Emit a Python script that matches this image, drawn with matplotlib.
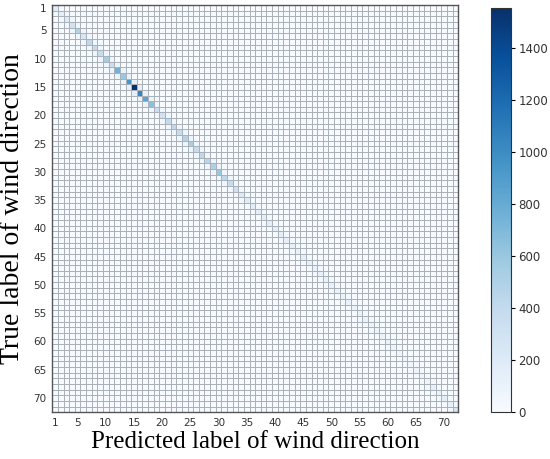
import matplotlib.pyplot as plt
import numpy as np

n_classes = 72
tick_labels = [1] + list(range(5, 71, 5))

# diagonal counts (correct predictions)
diag_counts = [
    180, 150, 200, 300, 480, 250, 420, 400, 380, 550,
    350, 750, 600, 950, 1555, 1050, 850, 650, 350, 300,
    400, 420, 380, 480, 520, 380, 420, 450, 500, 600,
    420, 380, 320, 220, 180, 170, 150, 140, 160, 140,
    150, 130, 120, 110, 150, 120, 100, 110, 100, 110,
    100, 90, 100, 90, 110, 100, 90, 80, 90, 100,
    80, 70, 80, 70, 80, 70, 80, 120, 100, 150,
    130, 250,
]
# confusion with the neighbouring direction (both sides)
neighbour_counts = [
    40, 40, 50, 60, 60, 50, 60, 60, 70, 60,
    80, 90, 100, 130, 140, 110, 90, 70, 60, 60,
    60, 60, 60, 70, 70, 60, 60, 70, 70, 60,
    60, 50, 40, 40, 30, 30, 30, 30, 30, 30,
    30, 30, 30, 30, 30, 30, 30, 30, 30, 30,
    30, 30, 30, 30, 30, 30, 30, 30, 30, 30,
    30, 30, 30, 30, 30, 30, 30, 30, 30, 30,
    40,
]

cm = np.zeros((n_classes, n_classes))
cm[np.arange(n_classes), np.arange(n_classes)] = diag_counts
cm[np.arange(n_classes - 1), np.arange(1, n_classes)] = neighbour_counts
cm[np.arange(1, n_classes), np.arange(n_classes - 1)] = neighbour_counts

fig = plt.figure(figsize=(5.5, 4.59), dpi=100)
ax = fig.add_axes([0.095, 0.102, 0.738, 0.887])
cax = fig.add_axes([0.893, 0.102, 0.036, 0.881])

mesh = ax.pcolormesh(cm, cmap="Blues", vmin=0, vmax=cm.max(),
                     edgecolors="#aab1b8", linewidth=0.5)
ax.set_xlim(0, n_classes)
ax.set_ylim(n_classes, 0)

pos = [t - 0.5 for t in tick_labels]
ax.set_xticks(pos)
ax.set_xticklabels(tick_labels)
ax.set_yticks(pos)
ax.set_yticklabels(tick_labels)
ax.tick_params(length=0, labelsize=7.5, labelcolor="#333333", pad=4)
for s in ax.spines.values():
    s.set_color("#555555")
    s.set_linewidth(1.0)

ax.set_xlabel("Predicted label of wind direction", family="Liberation Serif",
              fontsize=18, labelpad=2)
ax.set_ylabel("True label of wind direction", family="Liberation Serif",
              fontsize=20, labelpad=6)

cb = fig.colorbar(mesh, cax=cax)
cb.set_ticks([0, 200, 400, 600, 800, 1000, 1200, 1400])
cb.ax.tick_params(labelsize=8.5, labelcolor="#333333", length=3, pad=2.5)
cb.outline.set_edgecolor("#333333")

fig.savefig("out.png", dpi=100)
